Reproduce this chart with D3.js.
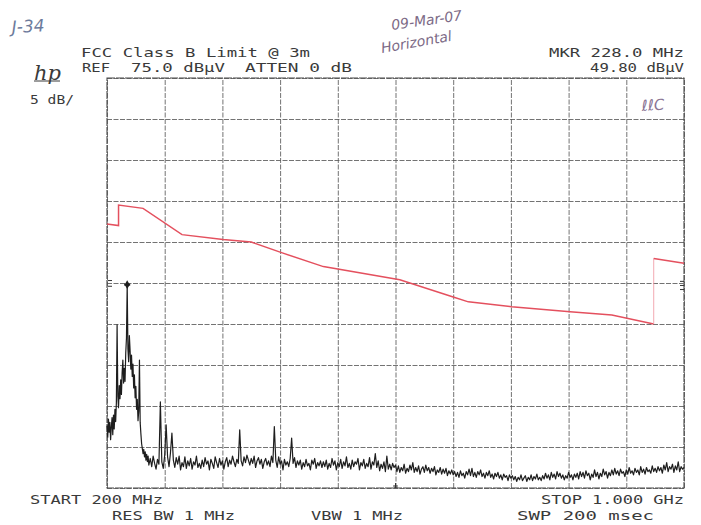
<!DOCTYPE html>
<html>
<head>
<meta charset="utf-8">
<script src="https://cdn.jsdelivr.net/npm/d3@7"></script>
<style>
  html, body { margin: 0; padding: 0; background: #ffffff; }
  svg { display: block; }
</style>
</head>
<body>
<svg id="chart" width="701" height="525"></svg>
<script>
// ---------------- DATA ----------------
const freqStartMHz = 200;
const freqStopMHz = 1000;
const refLevel = 75;           // dBµV (top of screen)
const bottomLevel = 25;        // 10 div * 5 dB/div
const gridFreqs = [200, 280, 360, 440, 520, 600, 680, 760, 840, 920, 1000];
const gridLevels = [25, 30, 35, 40, 45, 50, 55, 60, 65, 70, 75];

// FCC Class B limit @ 3m (as drawn, red)
const limitFreq = [200, 216, 216, 250, 304, 361, 400, 442, 500, 606, 680, 701, 761, 842, 900, 958, 958, 1000];
const limitDb   = [57.2, 57.0, 59.5, 59.1, 55.9, 55.3, 55.0, 53.7, 52.0, 50.4, 48.3, 47.7, 47.1, 46.5, 46.1, 45.0, 53.0, 52.4];

// Measured trace, part 1: 200-257 MHz, one point per MHz
const humpStartMHz = 200;
const humpStepMHz = 1;
const humpDb = [
  32.6,31.2,33.4,31.8,33.0,30.9,32.4,33.6,31.5,33.9,32.2,34.6,33.1,35.4,44.9,36.2,34.8,37.5,35.9,38.2,
  36.4,39.1,40.6,37.8,39.6,38.0,41.5,43.3,49.8,42.0,40.4,43.6,41.8,39.5,41.2,38.6,40.1,37.2,38.8,36.0,
  37.4,34.6,35.8,33.2,34.4,40.6,33.0,31.6,30.4,29.8,29.2,29.7,28.8,29.4,28.4,29.1,28.2,28.9
];
// Measured trace, part 2: 258-1000 MHz, one point every 2 MHz
const floorStartMHz = 258;
const floorStepMHz = 2;
const floorDb = [
  27.8,28.6,27.6,28.9,28.0,27.3,28.5,27.9,35.5,28.2,27.4,
  29.0,32.7,28.8,27.6,29.3,31.7,28.4,27.5,28.7,27.9,28.9,27.2,28.1,27.6,28.8,27.4,28.3,27.7,28.6,27.3,
  28.2,27.8,28.9,27.5,28.0,27.4,28.4,27.6,28.7,27.9,28.3,27.2,28.5,28.0,27.4,28.8,28.1,27.5,28.6,27.8,
  28.3,27.3,28.2,28.7,27.6,28.4,27.9,28.9,28.2,27.6,28.5,28.0,32.1,28.3,27.7,28.8,28.1,29.0,28.4,27.8,
  28.6,28.0,28.9,27.5,28.3,28.7,27.9,28.5,27.4,28.2,28.6,27.8,28.3,27.6,28.9,28.1,32.5,28.4,27.5,28.8,
  27.9,28.3,27.2,28.5,27.8,28.2,27.6,28.6,31.1,28.0,28.7,27.5,28.3,27.8,28.4,27.3,28.1,27.6,28.5,27.7,
  28.0,27.2,28.4,27.9,28.6,27.4,28.1,27.7,28.3,27.5,28.2,27.6,28.4,27.3,28.0,27.5,28.6,27.8,28.3,27.2,
  28.1,27.6,28.5,27.4,28.2,27.7,28.8,27.5,28.0,27.3,28.4,27.6,28.2,27.9,28.6,27.2,28.1,27.7,28.5,27.4,
  28.0,27.6,28.7,27.3,28.2,27.8,29.2,27.5,28.3,27.1,27.9,27.4,28.2,27.0,28.9,27.3,27.9,27.2,28.0,27.5,
  27.8,27.0,27.7,26.9,27.5,27.1,27.9,26.8,27.4,27.0,27.8,27.2,28.1,26.9,27.5,27.0,27.7,26.7,27.3,27.6,
  26.9,27.8,27.1,27.5,26.8,27.4,27.0,27.6,26.6,27.2,26.9,27.5,26.7,27.3,26.8,27.4,26.5,27.1,26.7,27.2,
  26.6,27.0,26.4,26.9,26.3,27.1,26.5,26.8,26.2,27.0,26.6,27.3,26.5,27.4,26.4,26.9,26.3,27.0,26.6,27.2,
  26.4,26.8,26.2,26.9,26.5,27.1,26.3,26.7,26.1,26.8,26.4,26.9,26.2,26.6,26.0,26.7,26.3,26.5,25.9,26.6,
  26.2,26.5,26.0,26.4,25.8,26.3,26.0,26.6,25.9,26.2,26.5,25.8,26.3,26.0,26.6,25.9,26.4,26.1,26.7,26.0,
  26.3,25.9,26.5,26.1,26.8,26.2,26.6,26.0,26.9,26.3,26.7,26.1,27.0,26.4,26.8,26.2,26.6,26.0,26.5,26.2,
  26.9,26.3,26.6,26.0,26.7,26.3,26.8,26.1,27.0,26.4,26.9,26.2,27.1,26.5,26.8,26.0,26.7,26.3,27.2,26.4,
  26.9,26.1,26.8,26.4,27.3,26.6,27.0,26.2,26.9,26.5,27.2,26.6,27.4,26.7,27.1,26.5,27.3,26.8,27.0,26.4,
  27.2,26.7,27.5,26.8,27.1,26.6,27.4,26.9,27.2,26.6,27.6,26.9,27.3,26.7,27.5,27.0,27.2,26.8,27.7,27.0,
  27.4,26.9,27.6,27.1,27.5,26.8,27.8,27.2,28.1,27.0,27.6,27.3,27.9,26.9,27.7,27.2,28.2,27.0,27.6,27.3,
  27.5
];

// Marker
const markerFreq = 228;
const markerDb = 49.8;

// Small display indicator marks
const leftMarkDb = [50.3, 49.6];
const rightMarkDb = [50.2, 49.7, 49.2];
const bottomMarkFreq = [598, 600, 602];

// ---------------- DRAW ----------------
const svg = d3.select("#chart");
const pL = 107, pR = 684, pT = 78, pB = 488;

const x = d3.scaleLinear().domain([freqStartMHz, freqStopMHz]).range([pL, pR]);
const y = d3.scaleLinear().domain([bottomLevel, refLevel]).range([pB, pT]);

const mono = "'DejaVu Sans Mono', 'Liberation Mono', monospace";
const ink = "#3a3a3a";

// Grid via axes
const gx = svg.append("g")
  .attr("transform", `translate(0,${pB})`)
  .call(d3.axisBottom(x).tickValues(gridFreqs).tickSize(-(pB - pT)).tickFormat(""));
const gy = svg.append("g")
  .attr("transform", `translate(${pL},0)`)
  .call(d3.axisLeft(y).tickValues(gridLevels).tickSize(-(pR - pL)).tickFormat(""));
[gx, gy].forEach(g => {
  g.select(".domain").remove();
  g.selectAll(".tick line")
    .attr("stroke", "#5a5a5a")
    .attr("stroke-width", 1)
    .attr("stroke-dasharray", "5,1.5")
    .attr("opacity", 0.85);
});
// border
svg.append("rect")
  .attr("x", pL).attr("y", pT)
  .attr("width", pR - pL).attr("height", pB - pT)
  .attr("fill", "none").attr("stroke", "#4a4a4a").attr("stroke-width", 1.1)
  .attr("stroke-dasharray", "8,1");

// Limit line
const limitPts = limitFreq.map((f, i) => [f, limitDb[i]]);
const line = d3.line().x(d => x(d[0])).y(d => y(d[1]));
svg.append("path")
  .attr("d", line(limitPts.slice(0, 16)))
  .attr("fill", "none").attr("stroke", "#e4505e").attr("stroke-width", 1.5);
svg.append("path")
  .attr("d", line(limitPts.slice(15, 17)))
  .attr("fill", "none").attr("stroke", "#f0a0aa").attr("stroke-width", 0.9);
svg.append("path")
  .attr("d", line(limitPts.slice(16)))
  .attr("fill", "none").attr("stroke", "#e4505e").attr("stroke-width", 1.5);

// Trace
const tracePts = humpDb.map((v, i) => [humpStartMHz + i * humpStepMHz, v])
  .concat(floorDb.map((v, i) => [floorStartMHz + i * floorStepMHz, v]));
svg.append("path")
  .attr("d", line(tracePts))
  .attr("fill", "none").attr("stroke", "#1e1e1e").attr("stroke-width", 1.2)
  .attr("stroke-linejoin", "round");

// Marker
svg.append("path")
  .attr("d", d3.symbol().type(d3.symbolDiamond).size(22)())
  .attr("transform", `translate(${x(markerFreq)},${y(markerDb)})`)
  .attr("fill", "#1e1e1e");
svg.append("line")
  .attr("x1", x(markerFreq) - 3).attr("x2", x(markerFreq) + 3)
  .attr("y1", y(markerDb)).attr("y2", y(markerDb))
  .attr("stroke", "#1e1e1e").attr("stroke-width", 2);

// Indicator marks
svg.selectAll(".lm").data(leftMarkDb).enter().append("line")
  .attr("x1", pL + 1).attr("x2", pL + 5)
  .attr("y1", d => y(d)).attr("y2", d => y(d))
  .attr("stroke", "#333").attr("stroke-width", 1);
svg.selectAll(".rm").data(rightMarkDb).enter().append("line")
  .attr("x1", pR - 4).attr("x2", pR)
  .attr("y1", d => y(d)).attr("y2", d => y(d))
  .attr("stroke", "#333").attr("stroke-width", 1);
svg.selectAll(".bm").data(bottomMarkFreq).enter().append("line")
  .attr("x1", d => x(d)).attr("x2", d => x(d))
  .attr("y1", (d, i) => pB - (i === 1 ? 5 : 3)).attr("y2", pB)
  .attr("stroke", "#333").attr("stroke-width", 1);

// Printed annotation text
function txt(s, x0, yb, len, size) {
  svg.append("text")
    .attr("x", x0).attr("y", yb)
    .attr("font-family", mono).attr("font-size", size || 12)
    .attr("fill", ink)
    .attr("textLength", len).attr("lengthAdjust", "spacingAndGlyphs")
    .text(s);
}
txt("FCC Class B Limit @ 3m", 81, 57, 229);
txt("REF", 82, 72, 28);
txt("75.0 dBµV", 131, 72, 94);
txt("ATTEN 0 dB", 245, 72, 107);
txt("MKR 228.0 MHz", 549, 57, 135);
txt("49.80 dBµV", 590, 72, 94);
txt("5 dB/", 30, 104, 44);
txt("START 200 MHz", 30, 504, 133);
txt("STOP 1.000 GHz", 541, 504, 143);
txt("RES BW 1 MHz", 112, 520, 123);
txt("VBW 1 MHz", 311, 520, 92);
txt("SWP 200 msec", 517, 520, 137);

// hp logo
svg.append("text")
  .attr("x", 34).attr("y", 80)
  .attr("font-family", "'DejaVu Serif', serif").attr("font-style", "italic")
  .attr("font-size", 21).attr("fill", "#3a3a3a")
  .text("hp");
svg.append("line").attr("x1", 34).attr("x2", 60).attr("y1", 81).attr("y2", 81)
  .attr("stroke", "#3a3a3a").attr("stroke-width", 1);

// Handwritten notes
function hand(s, x0, yb, size, color, rot) {
  svg.append("text")
    .attr("x", x0).attr("y", yb)
    .attr("font-family", "'DejaVu Sans', sans-serif")
    .attr("font-style", "italic").attr("font-weight", 200)
    .attr("font-size", size).attr("fill", color)
    .attr("transform", `rotate(${rot},${x0},${yb})`)
    .text(s);
}
hand("J-34", 12, 33, 17, "#6d7b9c", -3);
hand("09-Mar-07", 392, 30, 14, "#7c6a86", -8);
hand("Horizontal", 382, 53, 14, "#7c6a86", -10);
hand("ℓℓC", 642, 111, 15, "#8a7494", -4);
</script>
</body>
</html>
